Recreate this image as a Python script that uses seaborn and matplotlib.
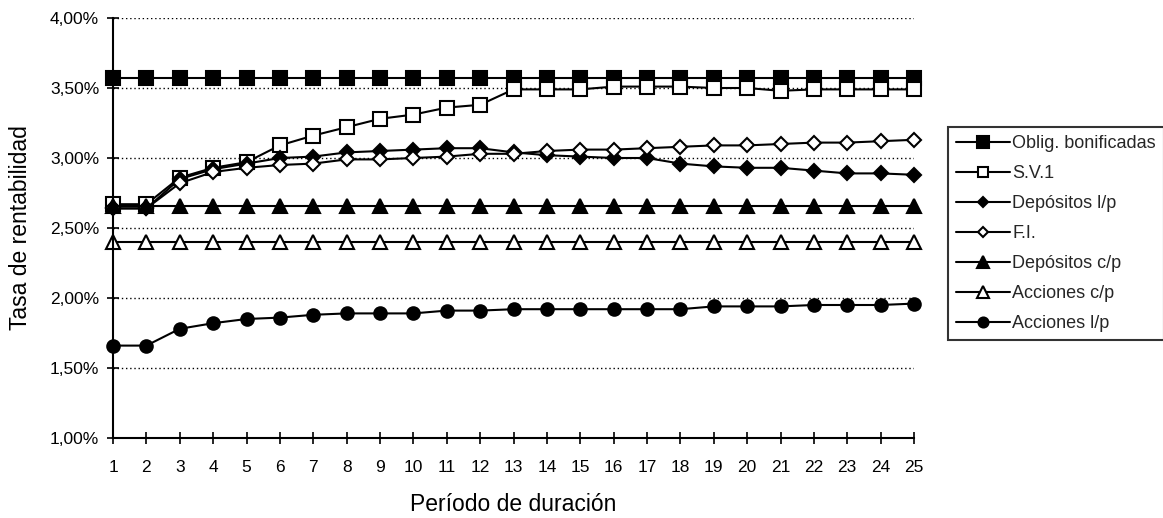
#!/usr/bin/env python3

import matplotlib
matplotlib.use("Agg")
import matplotlib.pyplot as plt
from matplotlib.ticker import FuncFormatter, MultipleLocator
import pandas as pd
import seaborn as sns

periods = list(range(1, 26))

oblig_bonificadas = [3.57] * 25
sv1 = [2.67, 2.67, 2.86, 2.93, 2.97, 3.09, 3.16, 3.22, 3.28, 3.31, 3.36, 3.38, 3.49,
       3.49, 3.49, 3.51, 3.51, 3.51, 3.50, 3.50, 3.48, 3.49, 3.49, 3.49, 3.49]
depositos_lp = [2.64, 2.64, 2.85, 2.92, 2.96, 3.00, 3.01, 3.04, 3.05, 3.06, 3.07, 3.07, 3.04,
                3.02, 3.01, 3.00, 3.00, 2.96, 2.94, 2.93, 2.93, 2.91, 2.89, 2.89, 2.88]
fi = [2.64, 2.64, 2.82, 2.90, 2.93, 2.95, 2.96, 2.99, 2.99, 3.00, 3.01, 3.03, 3.03,
      3.05, 3.06, 3.06, 3.07, 3.08, 3.09, 3.09, 3.10, 3.11, 3.11, 3.12, 3.13]
depositos_cp = [2.66] * 25
acciones_cp = [2.40] * 25
acciones_lp = [1.66, 1.66, 1.78, 1.82, 1.85, 1.86, 1.88, 1.89, 1.89, 1.89, 1.91, 1.91, 1.92,
               1.92, 1.92, 1.92, 1.92, 1.92, 1.94, 1.94, 1.94, 1.95, 1.95, 1.95, 1.96]

labels = ["Oblig. bonificadas", "S.V.1", "Depósitos l/p", "F.I.",
          "Depósitos c/p", "Acciones c/p", "Acciones l/p"]
series = [oblig_bonificadas, sv1, depositos_lp, fi, depositos_cp, acciones_cp, acciones_lp]

# marker, face colour, size
styles = {
    "Oblig. bonificadas": ("s", "black", 10),
    "S.V.1": ("s", "white", 9.5),
    "Depósitos l/p": ("D", "black", 7),
    "F.I.": ("D", "white", 7),
    "Depósitos c/p": ("^", "black", 10),
    "Acciones c/p": ("^", "white", 10),
    "Acciones l/p": ("o", "black", 9),
}

df = pd.DataFrame.from_records([
    {"Período": p, "Tasa": v, "Serie": lab}
    for lab, vals in zip(labels, series)
    for p, v in zip(periods, vals)
])

sns.set_theme(style="white")
plt.rcParams["font.family"] = ["Liberation Sans", "DejaVu Sans"]

fig = plt.figure(figsize=(11.63, 5.18), dpi=100)
ax = fig.add_axes([113 / 1163, 80 / 518, 801 / 1163, 420 / 518])

for lab in labels:
    m, fc, ms = styles[lab]
    sns.lineplot(
        data=df[df["Serie"] == lab], x="Período", y="Tasa", ax=ax, color="black",
        marker=m, markersize=ms, markerfacecolor=fc, markeredgecolor="black",
        markeredgewidth=1.5, linewidth=1.5, label=lab, clip_on=False, errorbar=None,
    )

ax.set_xlim(1, 25)
ax.set_ylim(1.0, 4.0)
ax.xaxis.set_major_locator(MultipleLocator(1))
ax.yaxis.set_major_locator(MultipleLocator(0.5))
ax.yaxis.set_major_formatter(FuncFormatter(lambda v, _: f"{v:.2f}%".replace(".", ",")))

ax.grid(False)
for yv in [1.5, 2.0, 2.5, 3.0, 3.5, 4.0]:
    ax.axhline(yv, color="black", linestyle=(0, (1, 2)), linewidth=1, zorder=0)

for s in ("top", "right"):
    ax.spines[s].set_visible(False)
for s in ("left", "bottom"):
    ax.spines[s].set_color("black")
    ax.spines[s].set_linewidth(1.5)

ax.tick_params(axis="both", direction="inout", length=8, width=1.2, color="black",
               labelsize=12.5, labelcolor="black", left=True, bottom=True)
ax.tick_params(axis="x", pad=12)
ax.tick_params(axis="y", pad=6)

ax.set_xlabel("Período de duración", fontsize=16.5, color="black", labelpad=13)
ax.set_ylabel("Tasa de rentabilidad", fontsize=16.5, color="black", labelpad=13)

leg = ax.legend(
    loc="upper left", bbox_to_anchor=(948 / 1163, 1 - 127 / 518), bbox_transform=fig.transFigure,
    borderaxespad=0, fancybox=False, frameon=True, edgecolor="black", fontsize=13,
    handlelength=3.0, handletextpad=0.1, labelspacing=0.72, borderpad=0.45, numpoints=1,
    markerscale=0.8,
)
leg.get_frame().set_linewidth(1.5)

fig.savefig("out.png", dpi=100)
